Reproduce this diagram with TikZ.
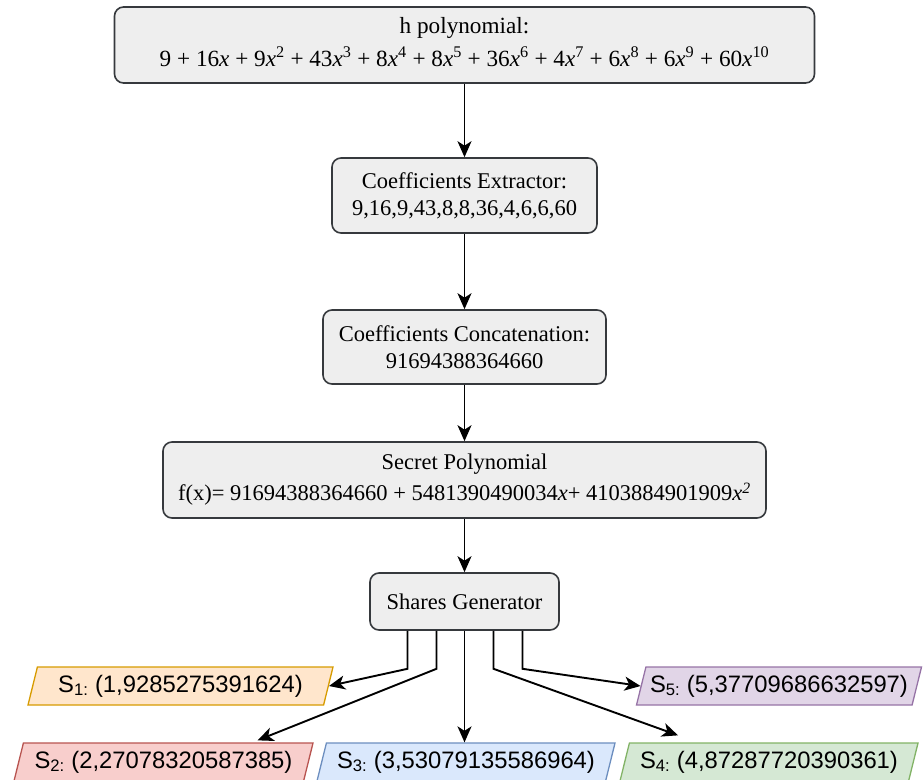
\documentclass[tikz,border=0pt]{standalone}
\usepackage{fontspec}
\setmainfont{Liberation Serif}
\newfontfamily\sharefont{Liberation Sans}
\usetikzlibrary{shapes.geometric,arrows.meta}

\definecolor{boxfill}{HTML}{EEEEEE}
\definecolor{boxline}{HTML}{36393D}
\definecolor{orangefill}{HTML}{FFE6CC}\definecolor{orangeline}{HTML}{D79B00}
\definecolor{redfill}{HTML}{F8CECC}\definecolor{redline}{HTML}{B85450}
\definecolor{bluefill}{HTML}{DAE8FC}\definecolor{blueline}{HTML}{6C8EBF}
\definecolor{greenfill}{HTML}{D5E8D4}\definecolor{greenline}{HTML}{82B366}
\definecolor{purplefill}{HTML}{E1D5E7}\definecolor{purpleline}{HTML}{9673A6}

\newcommand{\vx}{\textit{x}}
\newcommand{\vp}[1]{\textit{x}\textsuperscript{#1}}

\begin{document}
\begin{tikzpicture}[x=1pt,y=-1pt,
  stage/.style={draw=boxline, fill=boxfill, line width=1.6pt, rounded corners=9pt,
    align=center, inner sep=0pt, font=\fontsize{22.5}{27}\selectfont},
  tall/.style={font=\fontsize{22.5}{31}\selectfont},
  share/.style={trapezium, trapezium left angle=67, trapezium right angle=113,
    trapezium stretches body, line width=1.3pt, minimum height=38pt, inner sep=0pt,
    font=\sharefont\fontsize{23.8}{27}\selectfont},
  flow/.style={-{Stealth[length=16pt,width=14pt,inset=4.5pt]}, line width=1.9pt}
]
\useasboundingbox (0,0) rectangle (923,779);

% processing stages
\node[stage, font=\fontsize{23.2}{33}\selectfont, minimum width=700pt, minimum height=76pt,
      text depth=6pt] (hpoly) at (464.5,45)
  {h polynomial:\\ 9 + 16\vx{} + 9\vp{2} + 43\vp{3} + 8\vp{4} + 8\vp{5} + 36\vp{6} + 4\vp{7} + 6\vp{8} + 6\vp{9} + 60\vp{10}};
\node[stage, minimum width=265pt, minimum height=75pt] (extract) at (464.5,195.5)
  {Coefficients Extractor:\\ 9,16,9,43,8,8,36,4,6,6,60};
\node[stage, minimum width=283pt, minimum height=74pt] (concat) at (464.5,347)
  {Coefficients Concatenation:\\ 91694388364660};
\node[stage, tall, minimum width=603pt, minimum height=76pt] (secret) at (464.5,480)
  {Secret Polynomial\\ f(x)= 91694388364660 + 5481390490034\vx+ 4103884901909\textit{x\textsuperscript{2}}};
\node[stage, minimum width=189pt, minimum height=57pt] (gen) at (464.5,601.5)
  {Shares Generator};

% generated shares
\node[share, draw=orangeline, fill=orangefill, minimum width=305pt] (s1) at (180.5,686)
  {S\textsubscript{1:} (1,9285275391624)};
\node[share, draw=purpleline, fill=purplefill, minimum width=285pt] (s5) at (779,686)
  {S\textsubscript{5:} (5,37709686632597)};
\node[share, draw=redline, fill=redfill, minimum width=299pt] (s2) at (163.5,762)
  {S\textsubscript{2:} (2,27078320587385)};
\node[share, draw=blueline, fill=bluefill, minimum width=298pt] (s3) at (466,762)
  {S\textsubscript{3:} (3,53079135586964)};
\node[share, draw=greenline, fill=greenfill, minimum width=298pt] (s4) at (769,762)
  {S\textsubscript{4:} (4,87287720390361)};

% pipeline arrows
\draw[flow] (hpoly.south) -- (extract.north);
\draw[flow] (extract.south) -- (concat.north);
\draw[flow] (concat.south) -- (secret.north);
\draw[flow] (secret.south) -- (gen.north);

% distribution of the shares
\draw[flow] ([xshift=-57pt]gen.south) -- ++(0,38) -- (s1.east);
\draw[flow] ([xshift=-28pt]gen.south) -- ++(0,38) -- ([xshift=94pt,yshift=2pt]s2.north);
\draw[flow] (gen.south) -- (gen.south |- s3.north);
\draw[flow] ([xshift=29pt]gen.south) -- ++(0,38) -- ([xshift=-91pt,yshift=7pt]s4.north);
\draw[flow] ([xshift=58pt]gen.south) -- ++(0,38) -- (s5.west);
\end{tikzpicture}
\end{document}
